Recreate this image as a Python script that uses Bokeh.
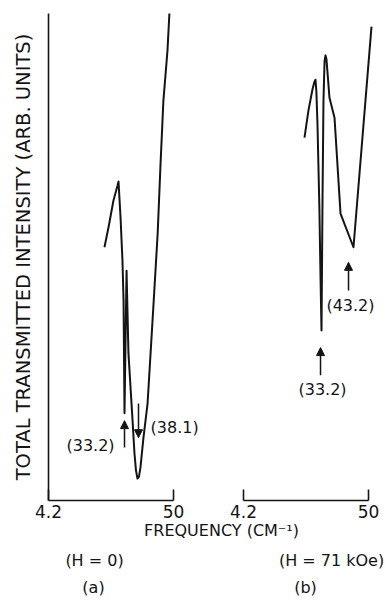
import math
from bokeh.plotting import figure
from bokeh.models import (Range1d, LinearAxis, FixedTicker, Arrow, NormalHead,
                          Label, ColumnDataSource)
from bokeh.embed import file_html
from bokeh.resources import INLINE

# ---- data (arbitrary intensity units) ----
freq_a = [24.7, 26.2, 28.0, 29.5, 29.85, 30.6, 31.3, 31.7, 32.05,
          32.8, 33.5, 35.0, 35.7, 36.25, 36.8, 37.35, 37.9, 39.0, 40.5,
          41.6, 42.7, 44.2, 45.2, 46.3, 47.8, 48.5]
intensity_a = [52.0, 56.1, 61.6, 64.7, 65.5, 58.1, 49.3, 41.1, 17.9,
               47.2, 30.2, 16.4, 9.7, 6.2, 4.5, 4.9, 6.8, 12.9, 19.9,
               30.2, 40.5, 54.8, 68.4, 82.1, 92.4, 100.0]

freq_b = [26.55, 28.0, 29.5, 30.2, 30.58, 30.9, 31.3, 32.0, 32.4, 32.78,
          33.15, 33.5, 33.9, 34.25, 34.6, 35.7, 37.55, 39.75, 44.5, 51.1]
intensity_b = [74.5, 80.1, 84.5, 86.0, 86.4, 84.0, 77.4, 60.2, 46.6, 34.9,
               61.6, 82.1, 90.2, 91.4, 90.6, 82.7, 78.6, 58.9, 52.0, 97.3]

# marked lines (value label, arrow x position, arrow tail y, arrow head y)
marks_a_labels = ["(33.2)", "(38.1)"]
marks_a_x = [32.05, 37.18]
marks_a_tail = [10.9, 19.9]
marks_a_head = [16.4, 12.9]

marks_b_labels = ["(33.2)", "(43.2)"]
marks_b_x = [32.42, 42.68]
marks_b_tail = [25.7, 43.1]
marks_b_head = [31.4, 48.9]

tick_values = [4.2, 50]
tick_labels = {4.2: "4.2", 50: "50"}

FONT = "DejaVu Sans"
INK = "#141414"

p = figure(width=385, height=601, output_backend="svg", toolbar_location=None,
           x_range=Range1d(-13.39, 127.69), y_range=Range1d(-20.74, 102.67),
           x_axis_type=None, y_axis_type=None,
           min_border_left=0, min_border_right=0, min_border_top=0,
           min_border_bottom=0)
p.extra_x_ranges = {"b": Range1d(-84.84, 56.23)}
p.outline_line_color = None
p.background_fill_color = "white"
p.border_fill_color = "white"

# y axis (no ticks), drawn at the start of panel (a)
yax = LinearAxis(ticker=FixedTicker(ticks=[]), bounds=(0, 100), fixed_location=4.2)
yax.axis_line_width = 1.6
yax.axis_line_color = INK
yax.major_tick_line_color = None
yax.minor_tick_line_color = None
yax.major_label_text_font_size = "0px"
p.add_layout(yax, "left")

p.add_layout(Label(x=-4.78, y=50.0, text="TOTAL TRANSMITTED INTENSITY (ARB. UNITS)",
                   angle=math.pi / 2, text_align="center", text_baseline="middle",
                   text_font=FONT, text_font_size="19.5px", text_color=INK))

def make_xaxis(range_name):
    ax = LinearAxis(x_range_name=range_name, bounds=(4.2, 50),
                    ticker=FixedTicker(ticks=tick_values), fixed_location=0)
    ax.major_label_overrides = tick_labels
    ax.major_tick_in = 11
    ax.major_tick_out = 0
    ax.minor_tick_line_color = None
    ax.axis_line_width = 1.6
    ax.major_tick_line_width = 1.6
    ax.axis_line_color = INK
    ax.major_tick_line_color = INK
    ax.major_label_text_font = FONT
    ax.major_label_text_font_size = "17px"
    ax.major_label_text_color = INK
    ax.major_label_standoff = 5
    return ax

p.add_layout(make_xaxis("default"), "below")
p.add_layout(make_xaxis("b"), "below")

src_a = ColumnDataSource(dict(x=freq_a, y=intensity_a))
src_b = ColumnDataSource(dict(x=freq_b, y=intensity_b))
p.line("x", "y", source=src_a, line_width=2, line_color=INK, line_join="round")
p.line("x", "y", source=src_b, line_width=2, line_color=INK, line_join="round",
       x_range_name="b")

def add_marks(labels, xs, tails, heads, rng, label_pos):
    for lab, x, t, h, (lx, ly) in zip(labels, xs, tails, heads, label_pos):
        p.add_layout(Arrow(end=NormalHead(size=8, fill_color=INK, line_color=INK),
                           x_start=x, y_start=t, x_end=x, y_end=h,
                           line_width=1.5, line_color=INK, x_range_name=rng))
        p.add_layout(Label(x=lx, y=ly, text=lab, x_range_name=rng,
                           text_align="center", text_baseline="middle",
                           text_font=FONT, text_font_size="16px", text_color=INK))

add_marks(marks_a_labels, marks_a_x, marks_a_tail, marks_a_head, "default",
          [(19.6, 11.3), (50.4, 15.0)])
add_marks(marks_b_labels, marks_b_x, marks_b_tail, marks_b_head, "b",
          [(33.15, 22.8), (43.4, 40.0)])

def caption(text, x, y, rng):
    p.add_layout(Label(x=x, y=y, text=text, x_range_name=rng,
                       text_align="center", text_baseline="middle",
                       text_font=FONT, text_font_size="16px", text_color=INK))

caption("FREQUENCY (CM\u207b\u00b9)", 67.6, -6.16, "default")
caption("(H = 0)", 21.06, -12.32, "default")
caption("(a)", 20.69, -17.86, "default")
caption("(H = 71 kOe)", 36.45, -12.32, "b")
caption("(b)", 26.92, -17.86, "b")

open("out.html", "w").write(file_html(p, INLINE))
